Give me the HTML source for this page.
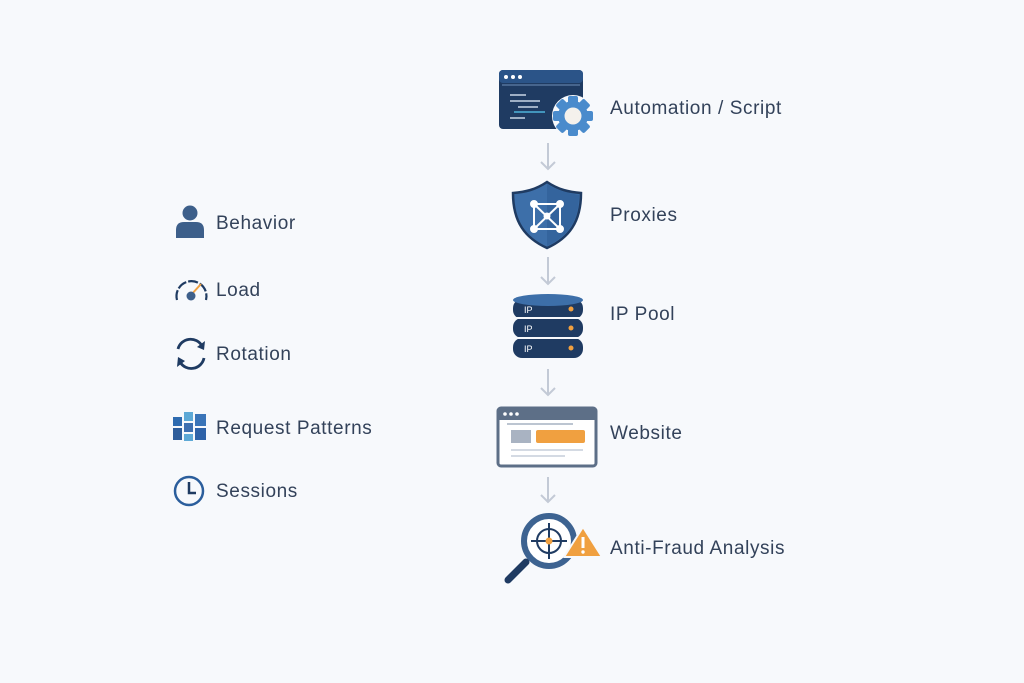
<!DOCTYPE html>
<html><head><style>
html,body{margin:0;padding:0;background:#f7f9fc;}
svg{display:block}
text{font-family:"Liberation Sans",sans-serif;font-size:19px;letter-spacing:0.6px;fill:#33425a}
</style></head><body>
<svg width="1024" height="683" viewBox="0 0 1024 683">
<rect width="1024" height="683" fill="#f7f9fc"/>
<g stroke="#c3cad6" stroke-width="2" fill="none">
<path d="M548 143V169M541 162L548 169L555 162"/>
<path d="M548 257V284M541 277L548 284L555 277"/>
<path d="M548 369V395M541 388L548 395L555 388"/>
<path d="M548 477V502M541 495L548 502L555 495"/>
</g>
<rect x="499" y="70" width="84" height="59" rx="4" fill="#1f3b62"/>
<rect x="499" y="70" width="84" height="13" rx="4" fill="#2b5488"/>
<line x1="502" y1="85" x2="580" y2="85" stroke="#6f8fb8" stroke-width="1"/>
<circle cx="506" cy="77" r="2" fill="#fff"/><circle cx="513" cy="77" r="2" fill="#fff"/><circle cx="520" cy="77" r="2" fill="#fff"/>
<g stroke="#c9d6e6" stroke-width="1.5"><line x1="510" y1="95" x2="526" y2="95"/><line x1="510" y1="101" x2="540" y2="101"/><line x1="518" y1="107" x2="538" y2="107"/><line x1="510" y1="118" x2="525" y2="118"/></g>
<line x1="514" y1="112" x2="545" y2="112" stroke="#4fb3d9" stroke-width="1.5"/>
<g transform="translate(573,116)">
<circle r="21" fill="#f7f9fc"/>
<g fill="#4a8bcc">
<circle r="15"/>
<rect x="-5" y="-20" width="10" height="40" rx="2"/>
<rect x="-5" y="-20" width="10" height="40" rx="2" transform="rotate(45)"/>
<rect x="-5" y="-20" width="10" height="40" rx="2" transform="rotate(90)"/>
<rect x="-5" y="-20" width="10" height="40" rx="2" transform="rotate(135)"/>
</g>
<circle r="8.5" fill="#f4f1ec"/>
</g>
<text x="610" y="114">Automation / Script</text>
<path d="M547 182C535 190 525 192 513 193C513 222 525 238 547 248C569 238 581 222 581 193C569 192 559 190 547 182Z" fill="#3d6fa9" stroke="#1f3b62" stroke-width="2.5"/>
<path d="M547 184V246C567 237 579 222 579 195C568 193 558 191 547 184Z" fill="#2f5e96" opacity="0.6"/>
<g stroke="#fff" stroke-width="2" fill="#fff">
<path d="M534 204H560V229H534ZM534 204L560 229M560 204L534 229" fill="none"/>
<circle cx="534" cy="204" r="3"/><circle cx="560" cy="204" r="3"/><circle cx="534" cy="229" r="3"/><circle cx="560" cy="229" r="3"/><circle cx="547" cy="216" r="2.5"/>
</g>
<text x="610" y="221">Proxies</text>
<g>
<rect x="513" y="338" width="70" height="20" rx="9" fill="#1f3b62"/>
<rect x="513" y="318" width="70" height="20" rx="9" fill="#1f3b62"/>
<rect x="513" y="299" width="70" height="20" rx="9" fill="#1f3b62"/>
<ellipse cx="548" cy="300" rx="35" ry="6" fill="#3d6fa9"/>
<line x1="515" y1="318" x2="581" y2="318" stroke="#f7f9fc" stroke-width="2"/>
<line x1="515" y1="338" x2="581" y2="338" stroke="#f7f9fc" stroke-width="2"/>
<text x="524" y="313" style="fill:#fff;font-size:9px;letter-spacing:0">IP</text><text x="524" y="332" style="fill:#fff;font-size:9px;letter-spacing:0">IP</text><text x="524" y="352" style="fill:#fff;font-size:9px;letter-spacing:0">IP</text>
<circle cx="571" cy="309" r="2.5" fill="#f0a040"/><circle cx="571" cy="328" r="2.5" fill="#f0a040"/><circle cx="571" cy="348" r="2.5" fill="#f0a040"/>
</g>
<text x="610" y="320">IP Pool</text>
<rect x="498" y="408" width="98" height="58" rx="3" fill="#fff" stroke="#5d6f87" stroke-width="3"/>
<rect x="498" y="408" width="98" height="12" fill="#5d6f87"/>
<circle cx="505" cy="414" r="1.8" fill="#fff"/><circle cx="511" cy="414" r="1.8" fill="#fff"/><circle cx="517" cy="414" r="1.8" fill="#fff"/>
<line x1="507" y1="424" x2="573" y2="424" stroke="#bcc5d1" stroke-width="2"/>
<rect x="511" y="430" width="20" height="13" fill="#a9b3c2"/>
<rect x="536" y="430" width="49" height="13" rx="2" fill="#f0a040"/>
<line x1="511" y1="450" x2="583" y2="450" stroke="#d4dae3" stroke-width="2"/>
<line x1="511" y1="456" x2="565" y2="456" stroke="#d4dae3" stroke-width="2"/>
<text x="610" y="439">Website</text>
<line x1="508" y1="580" x2="526" y2="562" stroke="#1f3b62" stroke-width="7" stroke-linecap="round"/>
<circle cx="549" cy="541" r="25" fill="#fff" stroke="#3d6391" stroke-width="6"/>
<circle cx="549" cy="541" r="12" fill="none" stroke="#1f3b62" stroke-width="2"/>
<g stroke="#1f3b62" stroke-width="2"><line x1="549" y1="523" x2="549" y2="559"/><line x1="531" y1="541" x2="567" y2="541"/></g>
<circle cx="549" cy="541" r="3.5" fill="#f0a040"/>
<path d="M583 527L602 557H564Z" fill="#f0a040" stroke="#f7f9fc" stroke-width="2" stroke-linejoin="round"/>
<line x1="583" y1="537" x2="583" y2="548" stroke="#fff" stroke-width="3"/>
<circle cx="583" cy="552" r="1.7" fill="#fff"/>
<text x="610" y="554">Anti-Fraud Analysis</text>
<circle cx="190" cy="213" r="7.5" fill="#3d5f8a"/>
<path d="M176 238V230Q176 222 184 222H196Q204 222 204 230V238Z" fill="#3d5f8a"/>
<text x="216" y="229">Behavior</text>
<path d="M177 300A15 15 0 1 1 206 300" fill="none" stroke="#1f3b62" stroke-width="2.2" stroke-dasharray="10 2"/>
<line x1="191" y1="295" x2="201" y2="284" stroke="#f0a040" stroke-width="2"/>
<circle cx="191" cy="296" r="4.5" fill="#3d5f8a"/>
<text x="216" y="296">Load</text>
<g fill="none" stroke="#1f3b62" stroke-width="2.8">
<path d="M178 349A13 13 0 0 1 202 346"/><path d="M204 358A13 13 0 0 1 180 362"/></g>
<path d="M205 341L204 350L197 347Z" fill="#1f3b62"/><path d="M177 367L178 357L185 361Z" fill="#1f3b62"/>
<text x="216" y="360">Rotation</text>
<g>
<rect x="173" y="417" width="9" height="9" fill="#2e6bb0"/><rect x="184" y="412" width="9" height="9" fill="#5da9d6"/><rect x="195" y="414" width="11" height="12" fill="#3a74b8"/>
<rect x="173" y="428" width="9" height="12" fill="#2e5d9b"/><rect x="184" y="423" width="9" height="9" fill="#3d6fb0"/><rect x="195" y="428" width="11" height="12" fill="#2e62a8"/>
<rect x="184" y="434" width="9" height="7" fill="#5da9d6"/>
</g>
<text x="216" y="434">Request Patterns</text>
<circle cx="189" cy="491" r="14" fill="none" stroke="#2b5e9c" stroke-width="2.5"/>
<path d="M189 482V493H196" fill="none" stroke="#1f3b62" stroke-width="2.5"/>
<text x="216" y="497">Sessions</text>
</svg>
</body></html>
